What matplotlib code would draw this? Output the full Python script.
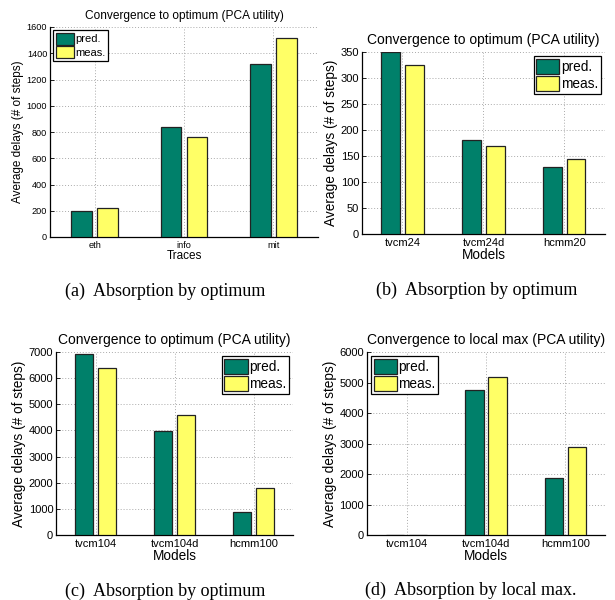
import numpy as np
import matplotlib
matplotlib.use("Agg")
import matplotlib.pyplot as plt

plt.rcParams['font.family'] = ['Liberation Sans', 'DejaVu Sans']

# (a) traces
traces = ['eth', 'info', 'mit']
pred_a = [197, 838, 1320]
meas_a = [218, 763, 1516]

# (b) models
models_b = ['tvcm24', 'tvcm24d', 'hcmm20']
pred_b = [350, 181, 129]
meas_b = [325, 170, 144]

# (c) models
models_c = ['tvcm104', 'tvcm104d', 'hcmm100']
pred_c = [6920, 3960, 880]
meas_c = [6370, 4585, 1790]

# (d) models, local max
models_d = ['tvcm104', 'tvcm104d', 'hcmm100']
pred_d = [10, 4740, 1860]
meas_d = [10, 5190, 2900]

GREEN = '#00806a'
YELLOW = '#ffff66'


def bar_panel(ax, labels, pred, meas, ymax, ystep, xlabel, title, loc,
              fs_tick, fs_lab, fs_title, fs_leg):
    x = np.arange(1, len(labels) + 1)
    w = 0.23
    ax.bar(x - 0.145, pred, w, color=GREEN, edgecolor='#222222', linewidth=0.9,
           label='pred.', zorder=3)
    ax.bar(x + 0.145, meas, w, color=YELLOW, edgecolor='#222222', linewidth=0.9,
           label='meas.', zorder=3)
    ax.set_xlim(0.5, 3.5)
    ax.set_ylim(0, ymax)
    ax.set_yticks(np.arange(0, ymax + 1, ystep))
    ax.set_xticks(x)
    ax.set_xticklabels(labels)
    ax.tick_params(direction='in', length=3, width=0.6, labelsize=fs_tick, pad=2)
    ax.tick_params(axis='x', length=0, pad=3)
    ax.grid(True, linestyle=(0, (1, 2)), color='#aaaaaa', linewidth=0.7, zorder=0)
    for s in ['top', 'right']:
        ax.spines[s].set_visible(False)
    for s in ['left', 'bottom']:
        ax.spines[s].set_linewidth(0.9)
    ax.set_xlabel(xlabel, fontsize=fs_lab, labelpad=0)
    ax.set_ylabel('Average delays (# of steps)', fontsize=fs_lab, labelpad=2)
    ax.set_title(title, fontsize=fs_title, pad=6)
    leg = ax.legend(loc=loc, fontsize=fs_leg, fancybox=False, framealpha=1,
                    edgecolor='black', borderpad=0.2, handlelength=1.7,
                    handleheight=1.3, handletextpad=0.1, labelspacing=0.15,
                    borderaxespad=0.3)
    leg.get_frame().set_linewidth(0.9)
    for p in leg.get_patches():
        p.set_linewidth(0.9)


fig = plt.figure(figsize=(6.15, 6.0), dpi=100)

ax_a = fig.add_axes([0.0813, 0.605, 0.4358, 0.35])
bar_panel(ax_a, traces, pred_a, meas_a, 1600, 200, 'Traces',
          'Convergence to optimum (PCA utility)', 'upper left', 6.6, 8.5, 8.6, 8)

ax_b = fig.add_axes([0.5886, 0.61, 0.395, 0.3033])
bar_panel(ax_b, models_b, pred_b, meas_b, 350, 50, 'Models',
          'Convergence to optimum (PCA utility)', 'upper right', 8, 9.8, 10, 9.8)

ax_c = fig.add_axes([0.0911, 0.1083, 0.3854, 0.305])
bar_panel(ax_c, models_c, pred_c, meas_c, 7000, 1000, 'Models',
          'Convergence to optimum (PCA utility)', 'upper right', 8, 9.8, 10, 9.8)

ax_d = fig.add_axes([0.5967, 0.1083, 0.387, 0.305])
bar_panel(ax_d, models_d, pred_d, meas_d, 6000, 1000, 'Models',
          'Convergence to local max (PCA utility)', 'upper left', 8, 9.8, 10, 9.8)

cap_font = dict(family='Liberation Serif', fontsize=13, ha='center', va='center')
fig.text(165 / 615, 1 - 291 / 600, '(a)  Absorption by optimum', **cap_font)
fig.text(477 / 615, 1 - 290 / 600, '(b)  Absorption by optimum', **cap_font)
fig.text(165 / 615, 1 - 591 / 600, '(c)  Absorption by optimum', **cap_font)
fig.text(471 / 615, 1 - 590 / 600, '(d)  Absorption by local max.', **cap_font)

fig.savefig('out.png', dpi=100)
